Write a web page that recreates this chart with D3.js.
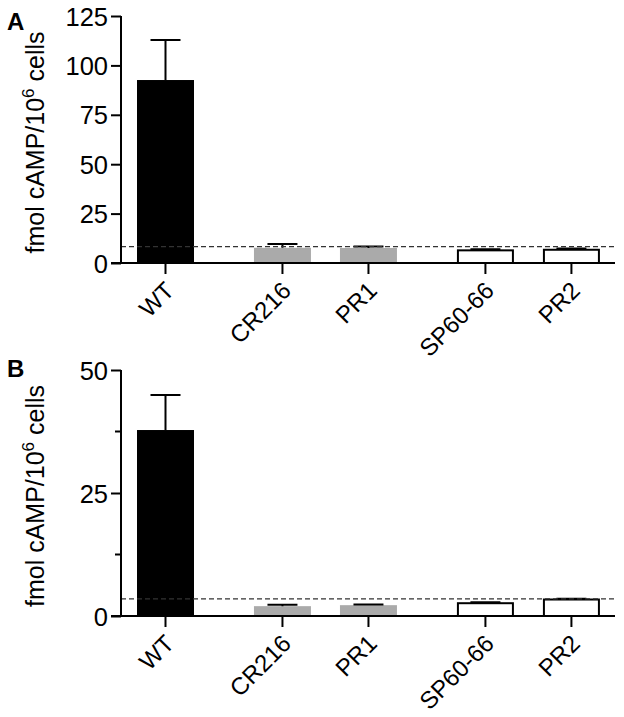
<!DOCTYPE html>
<html>
<head>
<meta charset="utf-8">
<script src="https://cdn.jsdelivr.net/npm/d3@7"></script>
<style>
	body { margin: 0; background: #fff; }
	svg { display: block; font-family: "Liberation Sans", Arial, sans-serif; }
</style>
</head>
<body>
<svg id="chart" width="624" height="717"></svg>
<script>
// strains, and which group each belongs to (wild type / controls / mutants)
const strains = ["WT", "CR216", "PR1", "SP60-66", "PR2"]
const strainGroup = [0, 1, 1, 2, 2]

// panel A
const meanA = [92.6, 7.7, 7.6, 6.4, 6.7]
const errA = [20.3, 1.9, 0.7, 0.5, 0.6]
const cutoffA = 8.3
const ticksA = [0, 25, 50, 75, 100, 125]
const minorA = []

// panel B
const meanB = [37.8, 2.0, 2.2, 2.6, 3.35]
const errB = [7.1, 0.3, 0.15, 0.2, 0.15]
const cutoffB = 3.5
const ticksB = [0, 25, 50]
const minorB = [12.5, 37.5]

var svg = d3.select('#chart')

var axisX = 121
var axisEnd = 615
var barW = 57
var groupGap = 0.36

// slot position -> pixels (gap between groups)
var x = d3.scaleLinear().domain([0, 1]).range([165.5, 251.5])
function xPos(i) { return x(i + strainGroup[i] * groupGap) }

var fillColor = d3.scaleOrdinal().domain([0, 1, 2]).range(["#000000", "#aaaaaa", "#ffffff"])

function drawPanel(opt) {
	var y = d3.scaleLinear().domain([0, opt.ticks[opt.ticks.length - 1]]).range([opt.bottom, opt.top])
	var g = svg.append('g')

	var rows = strains.map(function(s, i) {
		return { name: s, i: i, mean: opt.mean[i], err: opt.err[i], group: strainGroup[i] }
	})

	// bars
	g.selectAll('.bar')
		.data(rows)
		.join('rect')
			.attr('class', 'bar')
			.attr('x', d => xPos(d.i) - barW / 2 + (d.group == 2 ? 1 : 0))
			.attr('width', d => barW - (d.group == 2 ? 2 : 0))
			.attr('y', d => y(d.mean))
			.attr('height', d => y(0) - y(d.mean))
			.attr('fill', d => fillColor(d.group))
			.attr('stroke', d => d.group == 2 ? '#000' : 'none')
			.attr('stroke-width', 2)

	// error bars (upper only)
	g.selectAll('.err')
		.data(rows)
		.join('path')
			.attr('class', 'err')
			.attr('d', d => 'M' + xPos(d.i) + ',' + y(d.mean) + 'V' + y(d.mean + d.err)
				+ 'M' + (xPos(d.i) - 15) + ',' + y(d.mean + d.err) + 'H' + (xPos(d.i) + 15))
			.attr('fill', 'none')
			.attr('stroke', '#000')
			.attr('stroke-width', 2)

	// dashed cutoff line
	g.append('line')
		.attr('x1', axisX).attr('x2', axisEnd)
		.attr('y1', y(opt.cutoff)).attr('y2', y(opt.cutoff))
		.attr('stroke', '#333')
		.attr('stroke-width', 1.2)
		.attr('stroke-dasharray', '5,3')

	// y axis
	var yAxis = d3.axisLeft(y).tickValues(opt.ticks).tickSize(10).tickPadding(3)
	var ya = g.append('g')
		.attr('transform', 'translate(' + axisX + ',0)')
		.call(yAxis)
	ya.select('.domain').attr('stroke-width', 2).attr('d', 'M0,' + opt.top + 'V' + opt.bottom)
	ya.selectAll('.tick line').attr('stroke-width', 2)
	ya.selectAll('.tick text')
		.attr('font-size', 25.5)
		.attr('font-family', '"Liberation Sans", Arial, sans-serif')
		.attr('fill', '#000')
		.attr('dy', '0.36em')

	g.selectAll('.minor')
		.data(opt.minor)
		.join('line')
			.attr('class', 'minor')
			.attr('x1', axisX - 6).attr('x2', axisX)
			.attr('y1', d => y(d)).attr('y2', d => y(d))
			.attr('stroke', '#000').attr('stroke-width', 2)

	// x axis
	g.append('line')
		.attr('x1', axisX - 10).attr('x2', axisEnd)
		.attr('y1', opt.bottom).attr('y2', opt.bottom)
		.attr('stroke', '#000').attr('stroke-width', 2)

	g.selectAll('.xtick')
		.data(rows)
		.join('line')
			.attr('class', 'xtick')
			.attr('x1', d => xPos(d.i)).attr('x2', d => xPos(d.i))
			.attr('y1', opt.bottom).attr('y2', opt.bottom + 11)
			.attr('stroke', '#000').attr('stroke-width', 2)

	g.selectAll('.xlab')
		.data(rows)
		.join('text')
			.attr('class', 'xlab')
			.attr('transform', d => 'translate(' + (xPos(d.i) - 2) + ',' + (opt.bottom + 17) + ') rotate(-45)')
			.attr('text-anchor', 'end')
			.attr('dy', '0.71em')
			.attr('font-size', 24)
			.text(d => d.name)

	// y title
	var title = g.append('text')
		.attr('transform', 'translate(' + 44 + ',' + ((opt.top + opt.bottom) / 2 + 3) + ') rotate(-90)')
		.attr('text-anchor', 'middle')
		.attr('font-size', 25)
	title.append('tspan').text('fmol cAMP/10')
	title.append('tspan').attr('font-size', 17).attr('dy', -10).text('6')
	title.append('tspan').attr('dy', 10).text(' cells')

	// panel letter
	g.append('text')
		.attr('x', 7).attr('y', opt.letterY)
		.attr('font-size', 24)
		.attr('font-weight', 'bold')
		.text(opt.letter)
}

drawPanel({ letter: 'A', letterY: 30, top: 16, bottom: 263, ticks: ticksA, minor: minorA, mean: meanA, err: errA, cutoff: cutoffA })
drawPanel({ letter: 'B', letterY: 377, top: 370, bottom: 616, ticks: ticksB, minor: minorB, mean: meanB, err: errB, cutoff: cutoffB })
</script>
</body>
</html>
